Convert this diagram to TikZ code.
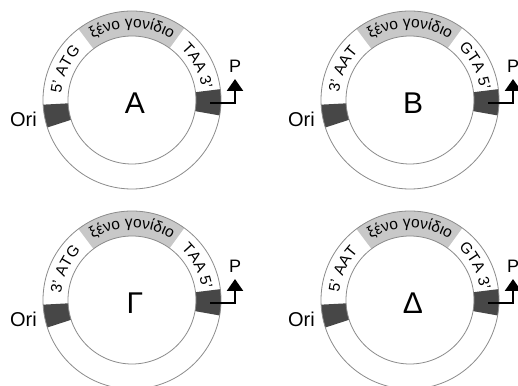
\documentclass[tikz,border=0pt]{standalone}
\usepackage{fontspec}
\setmainfont{Liberation Sans}
\usetikzlibrary{decorations.text,arrows.meta}

\definecolor{ringgrey}{HTML}{8C8C8C}
\definecolor{genegrey}{HTML}{C8C8C8}
\definecolor{darkband}{HTML}{474747}

\newcommand\ringfont{\fontsize{15.5}{15.5}\selectfont}

\tikzset{
  ring line/.style={draw=ringgrey, line width=0.8pt},
  bigletter/.style={font=\fontsize{30}{30}\selectfont, inner sep=0pt},
  orilabel/.style={font=\fontsize{20}{20}\selectfont, inner sep=0pt},
  plabel/.style={font=\fontsize{18}{18}\selectfont, inner sep=0pt},
  promoter/.style={line width=2.4pt, -{Triangle[width=16pt,length=12pt]}},
  ringtext/.style={decorate, decoration={text along path, text align=center, text={|\ringfont|#1}}}
}

% #1 name, #2 centre, #3 left label, #4 right label, #5 letter in the middle
\newcommand\plasmid[5]{%
  \begin{scope}[shift={#2}]
    \coordinate (#1) at (0,0);
    % ring body
    \fill[white, even odd rule] (0,0) circle[radius=89] (0,0) circle[radius=64];
    % inserted gene
    \fill[genegrey] (127:89) arc[start angle=127, end angle=54, radius=89]
      -- (54:64) arc[start angle=54, end angle=127, radius=64] -- cycle;
    % origin of replication
    \fill[darkband] (183:89) arc[start angle=183, end angle=198, radius=89]
      -- (198:64) arc[start angle=198, end angle=183, radius=64] -- cycle;
    % promoter segment
    \fill[darkband] (-10:89) arc[start angle=-10, end angle=7, radius=89]
      -- (7:64) arc[start angle=7, end angle=-10, radius=64] -- cycle;
    \draw[ring line] (0,0) circle[radius=89] (0,0) circle[radius=64];
    % labels along the ring
    \path[ringtext={#3}] (181:71) arc[start angle=181, end angle=130, radius=71];
    \path[ringtext={ξένο γονίδιο}] (130:72.5) arc[start angle=130, end angle=50, radius=72.5];
    \path[ringtext={#4}] (53:71) arc[start angle=53, end angle=2, radius=71];
    % labels
    \node[bigletter] (#1-name) at (3,-3) {#5};
    \node[orilabel] (#1-ori) at (-108.5,-19) {Ori};
    \node[plabel] (#1-p) at (103,33.5) {P};
    % promoter arrow
    \coordinate (#1-pstart) at (78,-3);
    \coordinate (#1-pcorner) at (103,-3);
    \coordinate (#1-ptip) at (103,21);
    \draw[promoter] (#1-pstart) -- (#1-pcorner) -- (#1-ptip);
  \end{scope}
}

\begin{document}
\begin{tikzpicture}[x=1pt, y=1pt]
  \clip (0,0) rectangle (518,385);
  \fill[white] (0,0) rectangle (518,385);
  \plasmid{pa}{(132,285)}{5' ATG}{TAA 3'}{Α}
  \plasmid{pb}{(410,285)}{3' AAT}{GTA 5'}{Β}
  \plasmid{pc}{(132,85)}{3' ATG}{TAA 5'}{Γ}
  \plasmid{pd}{(410,85)}{5' AAT}{GTA 3'}{Δ}
\end{tikzpicture}
\end{document}
